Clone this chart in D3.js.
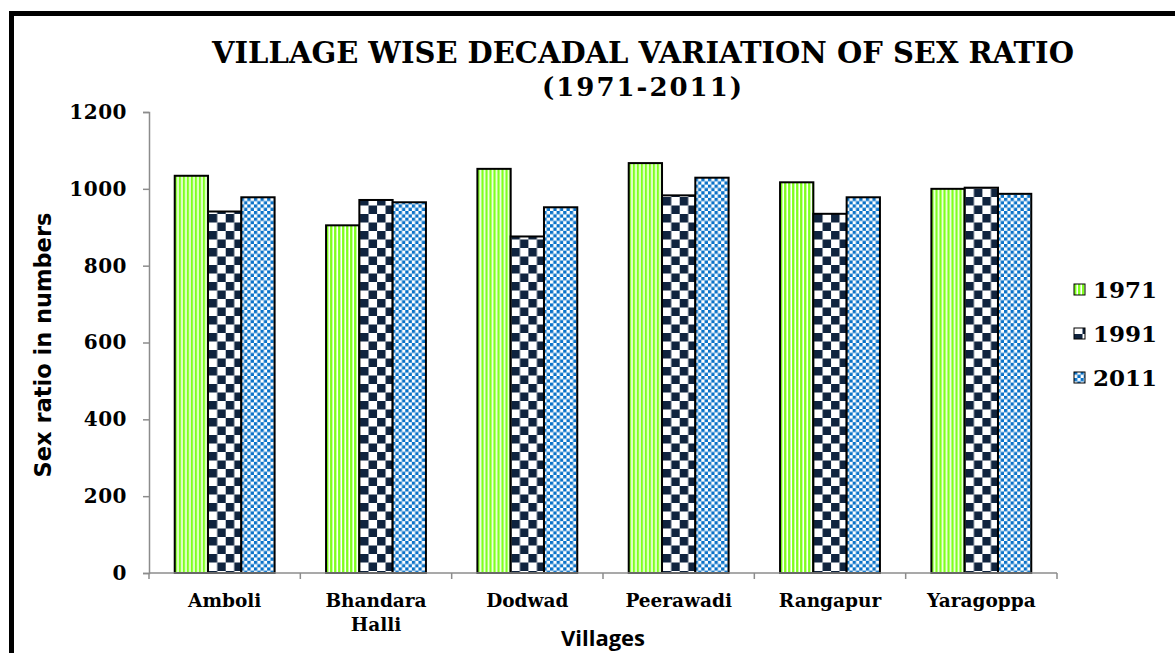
<!DOCTYPE html>
<html>
<head>
<meta charset="utf-8">
<script src="https://d3js.org/d3.v7.min.js"></script>
<style>
  body { margin: 0; background: #fff; }
</style>
</head>
<body>
<div id="chart"></div>
<script>
// chart data
var villages = ["Amboli", "Bhandara Halli", "Dodwad", "Peerawadi", "Rangapur", "Yaragoppa"];
var years = ["1971", "1991", "2011"];
var ratio1971 = [1034, 905, 1052, 1067, 1017, 1000];
var ratio1991 = [941, 971, 876, 983, 935, 1003];
var ratio2011 = [978, 965, 952, 1029, 978, 987];
var yTicks = [0, 200, 400, 600, 800, 1000, 1200];

var svgWidth = 1175;
var svgHeight = 653;

var margin = { top: 112, right: 118, bottom: 80, left: 149 };
var width = svgWidth - margin.left - margin.right;
var height = svgHeight - margin.top - margin.bottom;

var svg = d3.select("#chart")
  .append("svg")
  .attr("width", svgWidth)
  .attr("height", svgHeight);

// patterns for the three series
var defs = svg.append("defs");

var p1 = defs.append("pattern")
  .attr("id", "pat1971")
  .attr("patternUnits", "userSpaceOnUse")
  .attr("width", 4).attr("height", 4);
p1.append("rect").attr("width", 4).attr("height", 4).attr("fill", "#fff");
p1.append("rect").attr("width", 2.4).attr("height", 4).attr("fill", "#7fff1e");

var p2 = defs.append("pattern")
  .attr("id", "pat1991")
  .attr("patternUnits", "userSpaceOnUse")
  .attr("width", 17).attr("height", 17);
p2.append("rect").attr("width", 17).attr("height", 17).attr("fill", "#fff");
p2.append("rect").attr("width", 8.5).attr("height", 8.5).attr("fill", "#10243f");
p2.append("rect").attr("x", 8.5).attr("y", 8.5).attr("width", 8.5).attr("height", 8.5).attr("fill", "#10243f");

var p3 = defs.append("pattern")
  .attr("id", "pat2011")
  .attr("patternUnits", "userSpaceOnUse")
  .attr("width", 6.6).attr("height", 6.6);
p3.append("rect").attr("width", 6.6).attr("height", 6.6).attr("fill", "#fff");
p3.append("rect").attr("width", 3.3).attr("height", 3.3).attr("fill", "#0a72c8");
p3.append("rect").attr("x", 3.3).attr("y", 3.3).attr("width", 3.3).attr("height", 3.3).attr("fill", "#0a72c8");

var fills = ["url(#pat1971)", "url(#pat1991)", "url(#pat2011)"];
var series = [ratio1971, ratio1991, ratio2011];

// outer frame
svg.append("rect")
  .attr("x", 11.5).attr("y", 13.5)
  .attr("width", svgWidth + 20).attr("height", svgHeight + 20)
  .attr("fill", "none")
  .attr("stroke", "#000")
  .attr("stroke-width", 5);

var chartGroup = svg.append("g")
  .attr("transform", `translate(${margin.left}, ${margin.top})`);

var xScale = d3.scaleBand()
  .domain(villages)
  .range([0, width])
  .paddingInner(0.34)
  .paddingOuter(0.17);

var xSub = d3.scaleBand()
  .domain(years)
  .range([0, xScale.bandwidth()]);

var yScale = d3.scaleLinear()
  .domain([0, 1200])
  .range([height, 0]);

// bars
var rows = villages.map(function(v, i) {
  return { village: v, values: years.map(function(y, j) { return { year: y, value: series[j][i], fill: fills[j] }; }) };
});

var groups = chartGroup.selectAll(".grp")
  .data(rows)
  .enter()
  .append("g")
  .attr("transform", d => `translate(${xScale(d.village)}, 0)`);

groups.selectAll("rect")
  .data(d => d.values)
  .enter()
  .append("rect")
  .attr("x", d => xSub(d.year))
  .attr("y", d => yScale(d.value))
  .attr("width", xSub.bandwidth())
  .attr("height", d => height - yScale(d.value))
  .attr("fill", d => d.fill)
  .attr("stroke", "#000")
  .attr("stroke-width", 2);

// y axis
var leftAxis = d3.axisLeft(yScale).tickValues(yTicks).tickFormat(d3.format("d")).tickSize(6).tickPadding(16);
var yAxis = chartGroup.append("g").call(leftAxis);
yAxis.select(".domain").attr("stroke", "#8c8c8c").attr("stroke-width", 1.5);
yAxis.selectAll(".tick line").attr("stroke", "#8c8c8c").attr("stroke-width", 1.5);
yAxis.selectAll("text")
  .attr("font-family", "DejaVu Serif")
  .attr("font-weight", "bold")
  .attr("font-size", "20px")
  .attr("letter-spacing", "0.5px")
  .attr("fill", "#000");

// x axis: baseline and ticks at the category edges
var edges = d3.range(villages.length + 1).map(function(i) { return i * width / villages.length; });
chartGroup.append("line")
  .attr("x1", 0).attr("x2", width)
  .attr("y1", height).attr("y2", height)
  .attr("stroke", "#8c8c8c").attr("stroke-width", 1.5);
chartGroup.selectAll(".xtick")
  .data(edges)
  .enter()
  .append("line")
  .attr("x1", d => d).attr("x2", d => d)
  .attr("y1", height).attr("y2", height + 6)
  .attr("stroke", "#8c8c8c").attr("stroke-width", 1.5);

// category labels
var catLabels = chartGroup.selectAll(".cat")
  .data(villages)
  .enter()
  .append("text")
  .attr("x", d => xScale(d) + xScale.bandwidth() / 2)
  .attr("y", height + 34)
  .attr("text-anchor", "middle")
  .attr("font-family", "DejaVu Serif")
  .attr("font-weight", "bold")
  .attr("font-size", "18.5px");

catLabels.each(function(d) {
  var words = d.split(" ");
  var t = d3.select(this);
  words.forEach(function(w, i) {
    t.append("tspan")
      .attr("x", xScale(d) + xScale.bandwidth() / 2)
      .attr("dy", i === 0 ? 0 : 24)
      .text(w);
  });
});

// axis titles
svg.append("text")
  .attr("x", 603)
  .attr("y", 646)
  .attr("text-anchor", "middle")
  .attr("font-family", "Open Sans")
  .attr("font-weight", "bold")
  .attr("font-size", "22px")
  .text("Villages");

svg.append("text")
  .attr("transform", "translate(51, 345) rotate(-90)")
  .attr("text-anchor", "middle")
  .attr("font-family", "DejaVu Sans")
  .attr("font-weight", "bold")
  .attr("font-size", "22.5px")
  .text("Sex ratio in numbers");

// title
svg.append("text")
  .attr("x", 643)
  .attr("y", 63)
  .attr("text-anchor", "middle")
  .attr("font-family", "DejaVu Serif")
  .attr("font-weight", "bold")
  .attr("font-size", "29px")
  .text("VILLAGE WISE DECADAL VARIATION OF SEX RATIO");

svg.append("text")
  .attr("x", 643)
  .attr("y", 96)
  .attr("text-anchor", "middle")
  .attr("font-family", "DejaVu Serif")
  .attr("font-weight", "bold")
  .attr("font-size", "26px")
  .attr("letter-spacing", "2px")
  .text("(1971-2011)");

// legend
var legend = svg.append("g").attr("transform", "translate(1074, 290)");
var items = legend.selectAll("g")
  .data(years)
  .enter()
  .append("g")
  .attr("transform", (d, i) => `translate(0, ${i * 44})`);

items.append("rect")
  .attr("x", 0).attr("y", -6)
  .attr("width", 11).attr("height", 11)
  .attr("fill", (d, i) => fills[i])
  .attr("stroke", "#000")
  .attr("stroke-width", 1);

items.append("text")
  .attr("x", 19)
  .attr("y", 8)
  .attr("font-family", "DejaVu Serif")
  .attr("font-weight", "bold")
  .attr("font-size", "23px")
  .text(d => d);
</script>
</body>
</html>
